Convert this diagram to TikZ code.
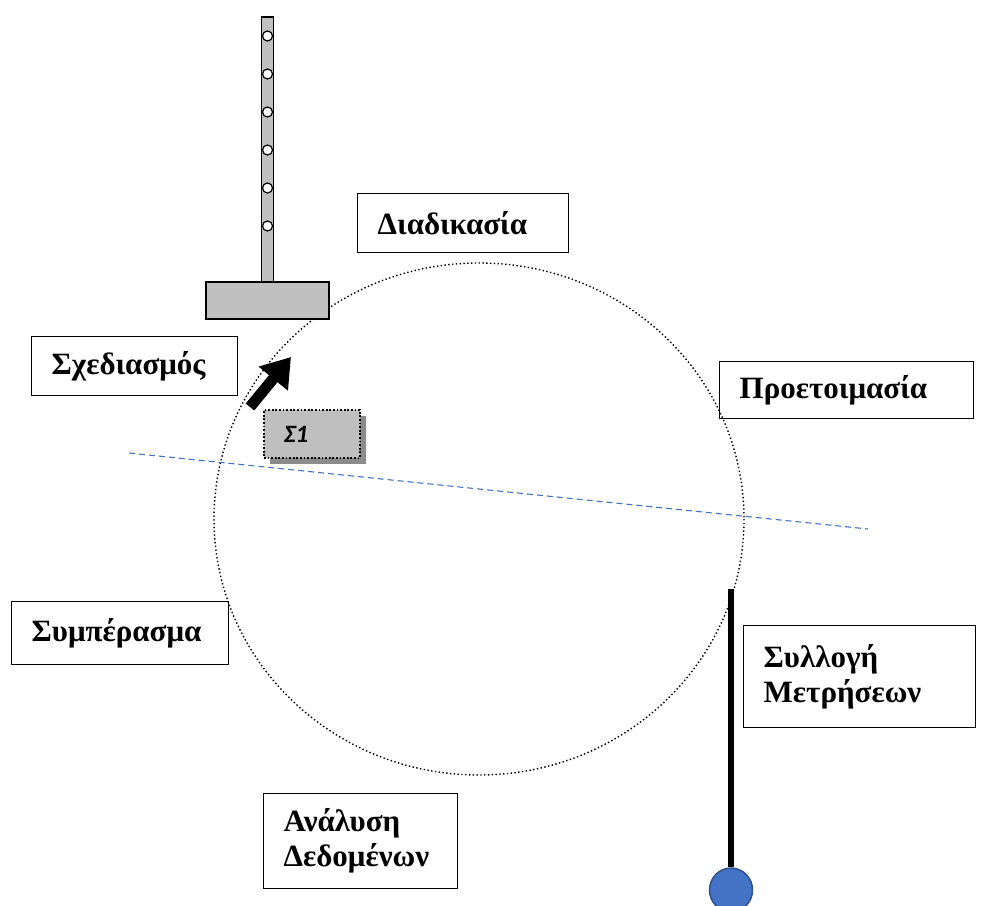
\documentclass[tikz,border=0pt]{standalone}
\usepackage{fontspec}
\setmainfont{Liberation Serif}
\newfontfamily\tagfont{Carlito}
\usetikzlibrary{positioning, shadows, arrows.meta, shapes.geometric}
\definecolor{PoleGray}  {HTML}{C0C0C0}
\definecolor{TagGray}   {HTML}{BFBFBF}
\definecolor{ShadeGray} {HTML}{7F7F7F}
\definecolor{AxisBlue}  {HTML}{4472C4}
\definecolor{BallEdge}  {HTML}{2F528F}

\begin{document}
\begin{tikzpicture}[x=1pt, y=-1pt,
    stagebox/.style={draw, line width=1.4pt, align=left, anchor=north west,
                     inner xsep=20pt, inner ysep=0pt,
                     font=\fontsize{31}{35}\selectfont\bfseries},
    polepart/.style={draw, line width=1.2pt, fill=PoleGray, inner sep=0pt},
    hole/.style={circle, draw, line width=1.2pt, fill=white, inner sep=0pt, minimum size=10pt}]
  \useasboundingbox (0,0) rectangle (988,905);
  \clip (0,0) rectangle (988,905);

  \draw[line width=1.4pt, dash pattern=on 1.4pt off 2.4pt] (479,519) ellipse [x radius=265, y radius=256];
  \draw[AxisBlue, line width=1.1pt, dash pattern=on 6pt off 4pt] (129,453) -- (868,529);

  \node[polepart, minimum width=12pt, minimum height=265pt] (pole) at (267.5,149.5) {};
  \node[polepart, minimum width=123pt, minimum height=37pt] (base) at (267.5,300.5) {};
  \foreach \k in {0,...,5}
    \node[hole] (hole\k) at (267.5,36+38*\k) {};

  \node[stagebox, text width=171pt, minimum height=59pt] (proc) at (357,193) {Διαδικασία};
  \node[stagebox, text width=166pt, minimum height=59pt] (plan) at (31,336) {Σχεδιασμός};
  \node[stagebox, text width=214pt, minimum height=57pt] (prep) at (719,361) {Προετοιμασία};
  \node[stagebox, text width=177pt, minimum height=63pt] (concl) at (11,601) {Συμπέρασμα};
  \node[stagebox, text width=192pt, minimum height=102pt] (collect) at (743,625) {Συλλογή\\Μετρήσεων};
  \node[stagebox, text width=154pt, minimum height=95pt] (analysis) at (263,793) {Ανάλυση\\Δεδομένων};

  \node[draw, line width=1.8pt, dash pattern=on 1.8pt off 1.8pt, fill=TagGray,
        drop shadow={shadow xshift=6pt, shadow yshift=-6pt, fill=ShadeGray, opacity=0.9},
        anchor=north west, minimum width=96pt, minimum height=48pt,
        text width=56pt, inner xsep=20pt, inner ysep=0pt, align=left,
        font=\tagfont\fontsize{25}{28}\selectfont\bfseries\itshape] (s1) at (263,409) {Σ1};

  \coordinate (arrtail) at (250,407);
  \coordinate (arrtip) at (291,357);
  \draw[line width=11pt, -{Triangle[length=28pt, width=36pt]}] (arrtail) -- (arrtip);

  \node[ellipse, draw=BallEdge, fill=AxisBlue, line width=1.5pt, minimum width=43pt, minimum height=44pt, inner sep=0pt] (ball) at (731,890) {};
  \coordinate (rodtop) at (731,589);
  \draw[line width=6pt] (rodtop) -- (ball.north);
\end{tikzpicture}
\end{document}
